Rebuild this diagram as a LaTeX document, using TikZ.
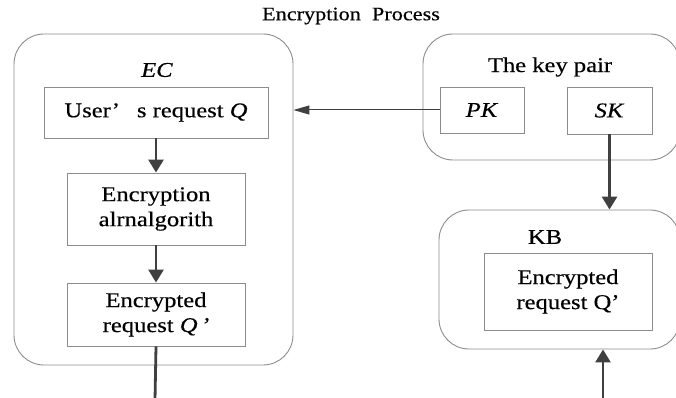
\documentclass[tikz,border=0pt]{standalone}
\usepackage{fontspec}
\setmainfont{Liberation Serif}[FakeStretch=1.17,FakeBold=0.4]
\usetikzlibrary{positioning,arrows.meta}
\definecolor{ecGray}{RGB}{140,140,140}
\definecolor{ecDark}{RGB}{64,64,64}
\tikzset{
    base/.style={font=\fontsize{21}{25}\selectfont, align=center, inner sep=0pt},
    group/.style={rectangle, rounded corners=30pt, draw=ecGray, line width=0.9pt},
    stage/.style={base, rectangle, draw=ecGray, line width=0.9pt},
    flow/.style={-{Triangle[length=13pt,width=15pt]}, line width=2.8pt, color=ecDark},
    thinflow/.style={-{Triangle[length=16pt,width=9pt]}, line width=1pt, color=ecDark},
    heading/.style={font=\fontsize{19}{22}\selectfont, inner sep=0pt}
}

\begin{document}
\begin{tikzpicture}[x=1pt,y=-1pt]
  \useasboundingbox (0,0) rectangle (676,398);
  \clip (0,0) rectangle (676,398);

  % Title
  \node[heading] (title) at (351,16) {Encryption\ \ Process};

  % EC side
  \node[group, minimum width=279pt, minimum height=331pt] (ec) at (153.5,199.5) {};
  \node[base] (eclabel) at (157,70) {\textit{EC}};
  \node[stage, minimum width=224pt, minimum height=51pt] (userq) at (156,112.5) {User’\hspace{17pt}s request \textit{Q}};
  \node[stage, minimum width=178pt, minimum height=72pt] (algo) at (156,209) {Encryption\\alrnalgorith};
  \node[stage, minimum width=178pt, minimum height=63pt] (encq) at (156,314.5) {Encrypted\\request \textit{Q\,’}};

  % key pair
  \node[group, minimum width=257pt, minimum height=126pt] (keys) at (551.5,97) {};
  \node[base] (keyslabel) at (550,67) {The key pair};
  \node[stage, minimum width=84pt, minimum height=46pt] (pk) at (482,110) {\textit{PK}};
  \node[stage, minimum width=85pt, minimum height=47pt] (sk) at (609.5,110.5) {\textit{SK}};

  % KB side
  \node[group, minimum width=241pt, minimum height=139pt] (kb) at (559.5,279.5) {};
  \node[base] (kblabel) at (545,237) {KB};
  \node[stage, minimum width=168pt, minimum height=77pt] (kbq) at (568,291.5) {Encrypted\\request Q’};

  % free ends
  \coordinate (ecout) at (155,400);
  \coordinate (kbin) at (603,400);

  % Arrows
  \draw[flow] (userq.south) -- (algo.north);
  \draw[flow] (algo.south) -- (encq.north);
  \draw[flow, -] (encq.south) -- (ecout);
  \draw[thinflow] (pk.west) -- (ec.east |- pk.west);
  \draw[flow] (sk.south) -- (sk.south |- kb.north);
  \draw[flow] (kbin) -- (kbin |- kb.south);
\end{tikzpicture}
\end{document}
